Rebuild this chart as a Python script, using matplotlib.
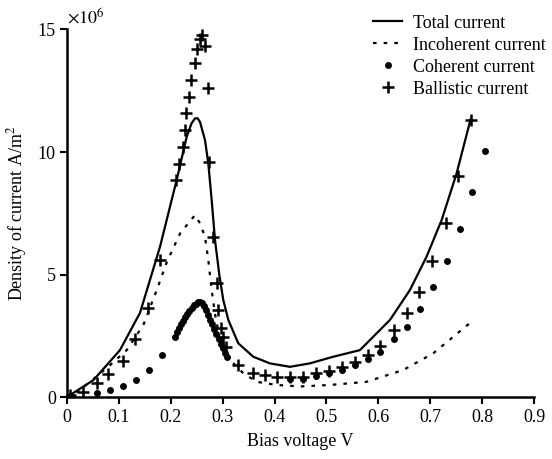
import matplotlib
matplotlib.use('Agg')
import matplotlib.pyplot as plt
import numpy as np

plt.rcParams['font.family'] = ['Liberation Serif', 'DejaVu Serif']
plt.rcParams['mathtext.fontset'] = 'stix'

# ---- data (current density in units of 1e6 A/m^2) ----
total_v = [0.0, 0.006, 0.051, 0.102, 0.1407, 0.1792, 0.2113, 0.2306, 0.240, 0.2466,
           0.2515, 0.2563, 0.2659, 0.2723, 0.2788, 0.2852, 0.2935, 0.3012, 0.3109,
           0.330, 0.359, 0.391, 0.4297, 0.468, 0.513, 0.5645, 0.5838, 0.6224,
           0.6609, 0.693, 0.722, 0.7508, 0.778]
total_j = [0.0, 0.1, 0.71, 1.93, 3.45, 6.14, 8.86, 10.62, 11.17, 11.37,
           11.38, 11.23, 10.49, 9.54, 8.04, 6.42, 5.0, 3.97, 3.16,
           2.21, 1.66, 1.39, 1.25, 1.39, 1.66, 1.93, 2.34, 3.16,
           4.38, 5.74, 7.23, 9.13, 11.35]

incoh_v = [0.0, 0.025, 0.083, 0.115, 0.147, 0.173, 0.192, 0.218, 0.2466, 0.2563,
           0.2659, 0.2723, 0.2788, 0.285, 0.2948, 0.314, 0.3397, 0.3655, 0.404,
           0.45, 0.5067, 0.5774, 0.648, 0.7058, 0.7797]
incoh_j = [0.0, 0.3, 1.32, 1.93, 2.95, 4.38, 5.5, 6.69, 7.43, 7.1,
           6.55, 5.6, 4.38, 3.43, 2.34, 1.53, 0.99, 0.64, 0.51,
           0.45, 0.51, 0.64, 1.12, 1.8, 3.09]

coh_v = [0.006, 0.057, 0.083, 0.1085, 0.133, 0.158, 0.1824,
         0.208, 0.212, 0.216, 0.220, 0.224, 0.228, 0.232, 0.236, 0.240, 0.244,
         0.248, 0.252, 0.256, 0.260, 0.264, 0.268, 0.272, 0.276, 0.280, 0.284,
         0.288, 0.292, 0.296, 0.300, 0.304, 0.308,
         0.4297, 0.454, 0.4798, 0.5054, 0.5305, 0.555, 0.5806, 0.603, 0.630,
         0.6545, 0.680, 0.7046, 0.7316, 0.757, 0.7797, 0.8054]
coh_j = [0.07, 0.2, 0.3, 0.47, 0.71, 1.12, 1.73,
         2.48, 2.65, 2.82, 2.98, 3.12, 3.26, 3.40, 3.52, 3.64, 3.75,
         3.83, 3.88, 3.90, 3.86, 3.74, 3.55, 3.35, 3.17, 2.98, 2.78,
         2.58, 2.38, 2.18, 2.00, 1.82, 1.66,
         0.74, 0.74, 0.88, 0.99, 1.12, 1.32, 1.56, 1.87, 2.37,
         2.88, 3.59, 4.49, 5.57, 6.86, 8.38, 10.05]

ball_v = [0.006, 0.031, 0.057, 0.0796, 0.1073, 0.131, 0.1555, 0.179,
          0.211, 0.2164, 0.2229, 0.2268, 0.2293, 0.2356, 0.2395, 0.2472, 0.2499,
          0.2563, 0.2607, 0.2659, 0.2711, 0.2742, 0.2819, 0.2884, 0.2916, 0.2967,
          0.3012, 0.3064, 0.330, 0.359, 0.3815, 0.404, 0.4297, 0.454, 0.4798,
          0.5054, 0.5305, 0.555, 0.5806, 0.603, 0.630, 0.6545, 0.679, 0.7027,
          0.730, 0.7528, 0.7784]
ball_j = [0.1, 0.21, 0.58, 0.94, 1.49, 2.37, 3.63, 5.6,
          8.86, 9.51, 10.19, 10.9, 11.58, 12.25, 12.93, 13.64, 14.18,
          14.59, 14.79, 14.32, 12.62, 9.6, 6.55, 4.65, 3.56, 2.82,
          2.48, 2.07, 1.32, 0.99, 0.92, 0.85, 0.82, 0.85, 0.99,
          1.09, 1.25, 1.46, 1.73, 2.1, 2.75, 3.43, 4.31, 5.57,
          7.1, 9.02, 11.3]

fig = plt.figure(figsize=(5.52, 4.59), dpi=100)
ax = fig.add_axes([0.1214, 0.134, 0.846, 0.802])

ax.plot(total_v, total_j, '-', color='black', lw=1.6, label='Total current')
ax.plot(incoh_v, incoh_j, color='black', lw=1.6, linestyle=(0, (1.6, 3.2)),
        label='Incoherent current')
ax.plot(coh_v, coh_j, 'o', color='black', ms=5, mew=0, ls='none',
        label='Coherent current')
ax.plot(ball_v, ball_j, '+', color='black', ms=8, mew=1.8, ls='none',
        label='Ballistic current')

ax.set_xlim(0, 0.9)
ax.set_ylim(0, 15)
ax.set_xticks(np.arange(0, 0.91, 0.1))
ax.set_xticklabels(['0', '0.1', '0.2', '0.3', '0.4', '0.5', '0.6', '0.7', '0.8', '0.9'])
ax.set_yticks([0, 5, 10, 15])
ax.set_yticklabels(['0', '5', '10', '15'])
for s in ['top', 'right']:
    ax.spines[s].set_visible(False)
for s in ['left', 'bottom']:
    ax.spines[s].set_linewidth(1.8)
ax.tick_params(direction='out', length=5, width=1.5, labelsize=13, pad=3)

ax.set_xlabel('Bias voltage V', fontsize=13, labelpad=5)
ax.set_ylabel('Density of current A/m$^2$', fontsize=13, labelpad=6)
ax.text(0.0, 15.1, r'$\times 10^6$', fontsize=13, ha='left', va='bottom',
        transform=ax.transData, clip_on=False)

leg = ax.legend(loc='upper left', bbox_to_anchor=(0.64, 1.06), frameon=False,
                fontsize=13, handlelength=1.6, handletextpad=0.6,
                labelspacing=0.28, borderaxespad=0)

fig.savefig('out.png', dpi=100)
